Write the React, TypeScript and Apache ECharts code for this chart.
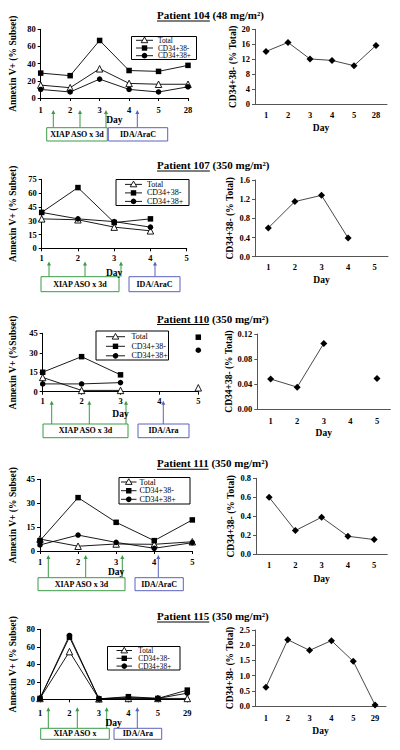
import React, { useEffect, useRef } from "react";
import * as echarts from "echarts";

const FONT = '"Liberation Serif", "Times New Roman", serif';
const SERIES_NAMES = ["Total", "CD34+38-", "CD34+38+"];

// ---- Patient 104 (48 mg/m2)
const p104Days = ["1", "2", "3", "4", "5", "28"];
const p104Total = [15, 12, 34, 17, 16, 16];
const p104Neg = [29, 26, 67, 32, 31, 38];
const p104Pos = [10, 7, 22, 10, 7, 13];
const p104Frac = [14.1, 16.5, 12.1, 11.7, 10.3, 15.7];
const p104LeftAxis = [0, 80, 20];
const p104RightAxis = [0, 20, 4];

// ---- Patient 107 (350 mg/m2)
const p107Days = ["1", "2", "3", "4", "5"];
const p107Total = [32, 31, 23, 19, null];
const p107Neg = [39, 66, 28, 32, null];
const p107Pos = [39, 32, 29, 23, null];
const p107Frac = [0.6, 1.15, 1.28, 0.39, null];
const p107LeftAxis = [0, 75, 15];
const p107RightAxis = [0, 1.6, 0.4];

// ---- Patient 110 (350 mg/m2)
const p110Days = ["1", "2", "3", "4", "5"];
const p110Total = [11, 1, 1, null, 3];
const p110Neg = [15, 27, 13, null, 42];
const p110Pos = [6, 6, 7, null, 32];
const p110Frac = [0.048, 0.035, 0.105, null, 0.049];
const p110LeftAxis = [0, 45, 15];
const p110RightAxis = [0, 0.12, 0.04];

// ---- Patient 111 (350 mg/m2)
const p111Days = ["1", "2", "3", "4", "5"];
const p111Total = [7.5, 3, 4.4, 4.2, 5.8];
const p111Neg = [6.5, 33.5, 18, 6.5, 19.5];
const p111Pos = [3.8, 10, 5.4, 1.7, 5.2];
const p111Frac = [0.6, 0.25, 0.39, 0.19, 0.155];
const p111LeftAxis = [0, 45, 15];
const p111RightAxis = [0, 0.8, 0.2];

// ---- Patient 115 (350 mg/m2)
const p115Days = ["1", "2", "3", "4", "5", "29"];
const p115Total = [1, 54.5, 0.5, 1, 1, 1];
const p115Neg = [1, 71, 0.5, 3, 1, 10.5];
const p115Pos = [1, 73, 0.5, 2, 1, 7];
const p115Frac = [0.62, 2.18, 1.83, 2.15, 1.47, 0.03];
const p115LeftAxis = [0, 80, 20];
const p115RightAxis = [0, 2.5, 0.5];

const patientIds = ["104", "107", "110", "111", "115"];
const doses = ["(48 mg/m²)", "(350 mg/m²)", "(350 mg/m²)", "(350 mg/m²)", "(350 mg/m²)"];
const leftYNames = [
  "Annexin V+ (% Subset)",
  "Annexin V+ (% Subset)",
  "Annexin V+ (%Subset)",
  "Annexin V+ (% Subset)",
  "Annexin V+ (% Subset)",
];
const rightYName = "CD34+38- (% Total)";
const boxTexts = [
  ["XIAP ASO x 3d", "IDA/AraC"],
  ["XIAP ASO x 3d", "IDA/AraC"],
  ["XIAP ASO x 3d", "IDA/Ara"],
  ["XIAP ASO x 3d", "IDA/AraC"],
  ["XIAP ASO x", "IDA/Ara"],
];
const rightDigits = [0, 1, 2, 1, 1];

const PANELS = [
  { days: p104Days, total: p104Total, neg: p104Neg, pos: p104Pos, frac: p104Frac, la: p104LeftAxis, ra: p104RightAxis },
  { days: p107Days, total: p107Total, neg: p107Neg, pos: p107Pos, frac: p107Frac, la: p107LeftAxis, ra: p107RightAxis },
  { days: p110Days, total: p110Total, neg: p110Neg, pos: p110Pos, frac: p110Frac, la: p110LeftAxis, ra: p110RightAxis },
  { days: p111Days, total: p111Total, neg: p111Neg, pos: p111Pos, frac: p111Frac, la: p111LeftAxis, ra: p111RightAxis },
  { days: p115Days, total: p115Total, neg: p115Neg, pos: p115Pos, frac: p115Frac, la: p115LeftAxis, ra: p115RightAxis },
];

// ---- layout (pixels)
const LAYOUT = [
  {
    titleY: 15,
    L: { x: 40.7, y: 29.3, w: 147.3, h: 68.7, lm: 7, dg: 17 },
    R: { x: 255, y: 29.3, w: 132, h: 75, lm: 6, dg: 18.5 },
    legend: { x: 131.5, y: 36.5, x2: 196.5, y2: 59.5, lx1: 136, lx2: 153, tx: 158, rows: [40.3, 48, 55.7], fs: 7.3 },
    green: [53.3, 80, 106], blue: [137.3], aTop: 110,
    gBox: [46.7, 127.7, 107.3, 141], bBox: [108.3, 127.7, 167.7, 141],
  },
  {
    titleY: 165,
    L: { x: 41.7, y: 179.3, w: 145, h: 69, lm: 5, dg: 19.5 },
    R: { x: 255, y: 180, w: 133, h: 76.7, lm: 6, dg: 18 },
    legend: { x: 116, y: 179.5, x2: 189, y2: 205.5, lx1: 125, lx2: 142, tx: 147, rows: [184.4, 192.9, 201.4], fs: 8 },
    green: [49, 85, 121], blue: [155], aTop: 261.5,
    gBox: [41, 276.7, 119, 291.7], bBox: [129, 276.7, 180, 291.7],
  },
  {
    titleY: 318.5,
    L: { x: 42.7, y: 333.3, w: 155.6, h: 58.4, lm: 5, dg: 17 },
    R: { x: 257.3, y: 334, w: 133, h: 75, lm: 7, dg: 18.5 },
    legend: { x: 96, y: 331, x2: 168.5, y2: 360, lx1: 106, lx2: 125, tx: 131.5, rows: [336.7, 346.3, 355.8], fs: 8 },
    green: [51.7, 89.3, 126], blue: [163.3], aTop: 400.7,
    gBox: [43, 424, 128, 437.7], bBox: [138, 424, 189, 437.7],
  },
  {
    titleY: 463.3,
    L: { x: 40, y: 479.3, w: 152.3, h: 71.7, lm: 6, dg: 16 },
    R: { x: 256, y: 478.3, w: 131.3, h: 76, lm: 6, dg: 19.5 },
    legend: { x: 119, y: 477.5, x2: 190, y2: 504, lx1: 121, lx2: 136.5, tx: 139.5, rows: [482, 490.7, 499.3], fs: 8 },
    green: [48.3, 85.7, 122.3], blue: [158.3], aTop: 555,
    gBox: [38, 577.7, 125, 590.7], bBox: [135, 577.7, 183.3, 590.7],
  },
  {
    titleY: 616,
    L: { x: 40, y: 629.3, w: 147.3, h: 70, lm: 9, dg: 17 },
    R: { x: 255, y: 630, w: 131, h: 76, lm: 7, dg: 19.5 },
    legend: { x: 107.5, y: 646.5, x2: 180, y2: 670, lx1: 116.5, lx2: 132, tx: 138.3, rows: [650.5, 658.3, 666.1], fs: 7.3 },
    green: [48.3, 77.3, 106.7], blue: [137.3], aTop: 707.3,
    gBox: [40.7, 728.3, 109.3, 739.3], bBox: [114, 728.3, 161.7, 739.3],
  },
];

const GREEN = "#3a9a46";
const BLUE = "#5a62c0";
const TITLE_X = 157;

function measure(text: string, font: string): number {
  const ctx = document.createElement("canvas").getContext("2d");
  if (!ctx) return text.length * 5.5;
  ctx.font = font;
  return ctx.measureText(text).width;
}

function buildOption() {
  const grid: any[] = [];
  const xAxis: any[] = [];
  const yAxis: any[] = [];
  const series: any[] = [];
  const graphic: any[] = [];

  const tickLabel = { fontFamily: FONT, fontSize: 8.5, fontWeight: "bold", color: "#000" };
  const nameStyle = { fontFamily: FONT, fontSize: 9.5, fontWeight: "bold", color: "#000" };

  PANELS.forEach((p, i) => {
    const lay = LAYOUT[i];
    const li = i * 2;
    const ri = i * 2 + 1;

    grid.push({ left: lay.L.x, top: lay.L.y, width: lay.L.w, height: lay.L.h });
    grid.push({ left: lay.R.x, top: lay.R.y, width: lay.R.w, height: lay.R.h });

    xAxis.push({
      type: "category", gridIndex: li, data: p.days, boundaryGap: false,
      axisLine: { lineStyle: { color: "#000", width: 1 } },
      axisTick: { length: 3, lineStyle: { color: "#000" } },
      axisLabel: { ...tickLabel, margin: lay.L.lm, interval: 0 },
      name: "Day", nameLocation: "middle", nameGap: lay.L.dg, nameTextStyle: nameStyle,
    });
    xAxis.push({
      type: "category", gridIndex: ri, data: p.days, boundaryGap: true,
      axisLine: { lineStyle: { color: "#555", width: 1 } },
      axisTick: { length: 3, lineStyle: { color: "#555" } },
      axisLabel: { ...tickLabel, margin: lay.R.lm, interval: 0 },
      name: "Day", nameLocation: "middle", nameGap: lay.R.dg, nameTextStyle: nameStyle,
    });
    yAxis.push({
      type: "value", gridIndex: li, min: p.la[0], max: p.la[1], interval: p.la[2],
      splitLine: { show: false },
      axisLine: { show: true, lineStyle: { color: "#000", width: 1 } },
      axisTick: { show: true, length: 3, lineStyle: { color: "#000" } },
      axisLabel: { ...tickLabel, margin: 5 },
      name: leftYNames[i], nameLocation: "middle", nameGap: lay.L.x - 13.3 - 5, nameTextStyle: nameStyle,
    });
    const dg = rightDigits[i];
    yAxis.push({
      type: "value", gridIndex: ri, min: p.ra[0], max: p.ra[1], interval: p.ra[2],
      splitLine: { show: false },
      axisLine: { show: true, lineStyle: { color: "#555", width: 1 } },
      axisTick: { show: true, length: 3, lineStyle: { color: "#555" } },
      axisLabel: { ...tickLabel, margin: 5, formatter: (v: number) => v.toFixed(dg) },
      name: rightYName, nameLocation: "middle", nameGap: lay.R.x - 232.5 - 5, nameTextStyle: nameStyle,
    });

    const common = {
      type: "line", xAxisIndex: li, yAxisIndex: li, connectNulls: false, showAllSymbol: true,
      lineStyle: { color: "#000", width: 0.9 }, z: 3,
    };
    series.push({ ...common, name: SERIES_NAMES[0], data: p.total, symbol: "triangle", symbolSize: 6.5, itemStyle: { color: "#fff", borderColor: "#000", borderWidth: 0.9 } });
    series.push({ ...common, name: SERIES_NAMES[1], data: p.neg, symbol: "rect", symbolSize: 5.5, itemStyle: { color: "#000" } });
    series.push({ ...common, name: SERIES_NAMES[2], data: p.pos, symbol: "circle", symbolSize: 5.5, itemStyle: { color: "#000" } });
    series.push({
      type: "line", name: "CD34+38- % Total " + patientIds[i], xAxisIndex: ri, yAxisIndex: ri,
      data: p.frac, connectNulls: false, showAllSymbol: true,
      symbol: "diamond", symbolSize: 7,
      lineStyle: { color: "#333", width: 0.9 }, itemStyle: { color: "#000" },
    });

    // legend (drawn by hand)
    const lg = lay.legend;
    graphic.push({
      type: "rect",
      shape: { x: lg.x, y: lg.y, width: lg.x2 - lg.x, height: lg.y2 - lg.y },
      style: { fill: "#fff", stroke: "#000", lineWidth: 1 },
    });
    lg.rows.forEach((ry, k) => {
      const cx = (lg.lx1 + lg.lx2) / 2;
      graphic.push({ type: "line", shape: { x1: lg.lx1, y1: ry, x2: lg.lx2, y2: ry }, style: { stroke: "#000", lineWidth: 0.9 } });
      if (k === 0) {
        graphic.push({ type: "polygon", shape: { points: [[cx, ry - 3.3], [cx - 3.3, ry + 2.4], [cx + 3.3, ry + 2.4]] }, style: { fill: "#fff", stroke: "#000", lineWidth: 0.9 } });
      } else if (k === 1) {
        graphic.push({ type: "rect", shape: { x: cx - 2.7, y: ry - 2.7, width: 5.4, height: 5.4 }, style: { fill: "#000" } });
      } else {
        graphic.push({ type: "circle", shape: { cx, cy: ry, r: 2.8 }, style: { fill: "#000" } });
      }
      graphic.push({ type: "text", x: lg.tx, y: ry, style: { text: SERIES_NAMES[k], font: `${lg.fs}px ${FONT}`, fill: "#000", verticalAlign: "middle" } });
    });

    // title
    const tFont = `bold 11px ${FONT}`;
    const pText = "Patient " + patientIds[i];
    const pw = measure(pText, tFont);
    const sw = measure(" ", tFont);
    graphic.push({ type: "text", x: TITLE_X, y: lay.titleY, style: { text: pText, font: tFont, fill: "#000", verticalAlign: "middle" } });
    graphic.push({ type: "text", x: TITLE_X + pw + sw, y: lay.titleY, style: { text: doses[i], font: tFont, fill: "#000", verticalAlign: "middle" } });
    graphic.push({ type: "rect", shape: { x: TITLE_X, y: lay.titleY + 5.5, width: pw, height: 1 }, style: { fill: "#000" } });

    // arrows
    const arrow = (x: number, col: string, bottom: number) => {
      graphic.push({ type: "line", shape: { x1: x, y1: lay.aTop + 3, x2: x, y2: bottom }, style: { stroke: col, lineWidth: 1 } });
      graphic.push({ type: "polygon", shape: { points: [[x - 2, lay.aTop + 4], [x + 2, lay.aTop + 4], [x, lay.aTop]] }, style: { fill: col } });
    };
    lay.green.forEach((x) => arrow(x, GREEN, lay.gBox[1]));
    lay.blue.forEach((x) => arrow(x, BLUE, lay.bBox[1]));

    // boxes
    const box = (b: number[], col: string, text: string) => {
      graphic.push({ type: "rect", shape: { x: b[0], y: b[1], width: b[2] - b[0], height: b[3] - b[1] }, style: { fill: "#fff", stroke: col, lineWidth: 1 } });
      graphic.push({ type: "text", x: (b[0] + b[2]) / 2, y: (b[1] + b[3]) / 2, style: { text, font: `bold 8px ${FONT}`, fill: "#000", align: "center", verticalAlign: "middle" } });
    };
    box(lay.gBox, GREEN, boxTexts[i][0]);
    box(lay.bBox, BLUE, boxTexts[i][1]);
  });

  return { animation: false, backgroundColor: "#fff", grid, xAxis, yAxis, series, graphic };
}

export default function App() {
  const ref = useRef<HTMLDivElement>(null);
  useEffect(() => {
    if (!ref.current) return;
    const chart = echarts.init(ref.current, undefined, { renderer: "svg" });
    chart.setOption(buildOption() as any);
    return () => chart.dispose();
  }, []);
  return (
    <div
      ref={ref}
      style={{ position: "absolute", left: 0, top: 0, width: 400, height: 750, background: "#fff" }}
    />
  );
}
